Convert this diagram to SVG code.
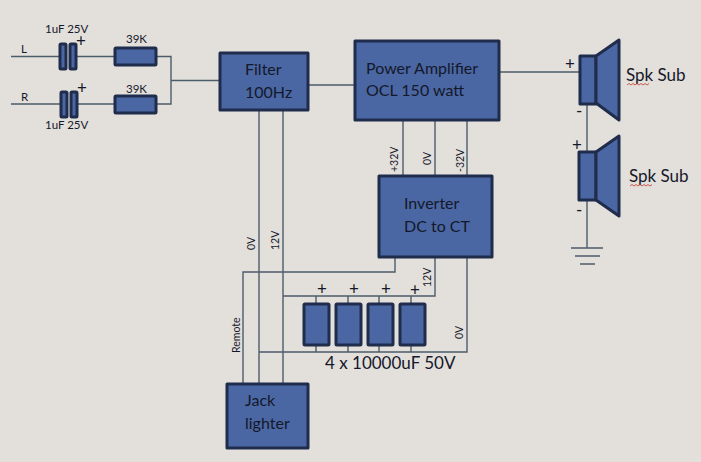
<svg xmlns="http://www.w3.org/2000/svg" width="701" height="462" viewBox="0 0 701 462">
<style>
.b{fill:#4a67a3;stroke:#1f2c4c;stroke-width:3;stroke-linejoin:round}
.c{fill:none;stroke:#4c5c6c;stroke-width:1.4}
text{font-family:Lato,"Liberation Sans",sans-serif;fill:#14182a}
.l{font-size:16px}
.k{font-size:17px}
.s{font-size:10.500px}
.t{font-size:11.500px}
.p{font-size:17px}
</style>
<rect width="701" height="462" fill="#e3dfda"/>
<g id="connectors" class="c">
<path d="M11 56.500H60M76 56.500H115M156 56.500H171V104H156M11 104H61M77 104H115M171 80.500H220"/>
<path d="M308 85H355M499 72H580M587 104V248"/>
<path d="M259 110V384M283 110V384"/>
<path d="M403 120V176M435 120V176M467 120V176"/>
<path d="M395 257V272H243V384M435 257V296H283M467 257V352H259"/>
<path d="M316 296V304M348 296V304M379 296V304M411 296V304M316 345V352M348 345V352M379 345V352M411 345V352"/>
<path d="M571 248H603M575 256H600M580 264H595"/>
</g>
<g id="cap-l"><rect class="b" x="60" y="44" width="6" height="25" rx="1"/><rect class="b" x="70" y="44" width="6" height="25" rx="1"/><text class="t" x="45" y="33">1uF 25V</text><text class="p" x="76" y="47">+</text><text class="t" x="21" y="53">L</text></g>
<g id="cap-r"><rect class="b" x="61" y="92" width="6" height="25" rx="1"/><rect class="b" x="71" y="92" width="6" height="25" rx="1"/><text class="t" x="45" y="129">1uF 25V</text><text class="p" x="77" y="94">+</text><text class="t" x="21" y="101">R</text></g>
<g id="res-l"><rect class="b" x="115" y="48" width="41" height="17" rx="1"/><text class="t" x="126" y="43">39K</text></g>
<g id="res-r"><rect class="b" x="115" y="96" width="41" height="17" rx="1"/><text class="t" x="126" y="93">39K</text></g>
<g id="filter"><rect class="b" x="220" y="53" width="88" height="57"/><text class="l" x="245" y="75">Filter</text><text class="l" x="245" y="98">100Hz</text></g>
<g id="amp"><rect class="b" x="355" y="41" width="144" height="79"/><text class="l" x="366" y="74">Power Amplifier</text><text class="l" x="366" y="96">OCL 150 watt</text></g>
<g id="inverter"><rect class="b" x="379" y="176" width="113" height="81"/><text class="l" x="404" y="209">Inverter</text><text class="l" x="404" y="232">DC to CT</text></g>
<g id="jack"><rect class="b" x="227" y="384" width="81" height="64"/><text class="l" x="245" y="406">Jack</text><text class="l" x="245" y="429">lighter</text></g>
<g id="spk1"><rect class="b" x="580" y="56" width="16" height="48"/><path class="b" d="M596 56L619 40V120L596 103Z"/><text class="p" x="565" y="70">+</text><text class="p" x="576" y="117">-</text><text class="k" x="626" y="81">Spk Sub</text><path d="M627 85l2-1.500 2 1.500 2-1.500 2 1.500 2-1.500 2 1.500 2-1.500 2 1.500 2-1.500 2 1.500 2-1.500" fill="none" stroke="#c0392b" stroke-width=".8"/></g>
<g id="spk2"><rect class="b" x="579" y="152" width="17" height="48"/><path class="b" d="M596 152L619 136V216L596 200Z"/><text class="p" x="572" y="151">+</text><text class="p" x="576" y="216">-</text><text class="k" x="629" y="182">Spk Sub</text><path d="M630 186l2-1.500 2 1.500 2-1.500 2 1.500 2-1.500 2 1.500 2-1.500 2 1.500 2-1.500 2 1.500 2-1.500" fill="none" stroke="#c0392b" stroke-width=".8"/></g>
<g id="caps"><rect class="b" x="304" y="304" width="25" height="41" rx="1"/><rect class="b" x="336" y="304" width="25" height="41" rx="1"/><rect class="b" x="368" y="304" width="25" height="41" rx="1"/><rect class="b" x="400" y="304" width="25" height="41" rx="1"/>
<text class="p" x="317" y="295">+</text><text class="p" x="349" y="295">+</text><text class="p" x="381" y="295">+</text><text class="p" x="410" y="296">+</text><text class="k" x="325" y="369">4 x 10000uF 50V</text></g>
<g id="labels" class="s">
<text class="s" transform="translate(398 172) rotate(-90)">+32V</text>
<text class="s" transform="translate(431 165) rotate(-90)">0V</text>
<text class="s" transform="translate(464 172) rotate(-90)">-32V</text>
<text class="s" transform="translate(255 250) rotate(-90)">0V</text>
<text class="s" transform="translate(279 250) rotate(-90)">12V</text>
<text class="s" transform="translate(240 353) rotate(-90)">Remote</text>
<text class="s" transform="translate(431 287) rotate(-90)">12V</text>
<text class="s" transform="translate(463 339) rotate(-90)">0V</text>
</g>
</svg>
